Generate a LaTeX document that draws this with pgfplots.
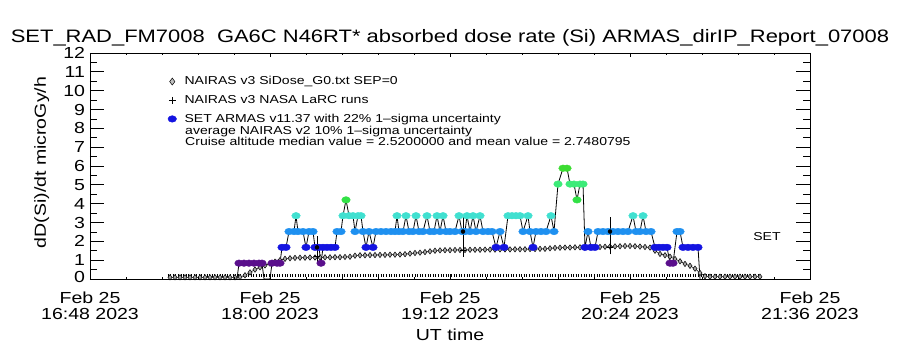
\documentclass[border=0pt]{standalone}
\usepackage{fontspec}
\setmainfont{Liberation Sans}[FakeStretch=1.22]
\usepackage{pgfplots}
\usepackage{pgfplotstable}
\pgfplotsset{compat=1.18}

\definecolor{cL1}{RGB}{90,15,140}
\definecolor{cL2}{RGB}{20,20,225}
\definecolor{cL3}{RGB}{30,144,240}
\definecolor{cL4}{RGB}{64,224,208}
\definecolor{cL5}{RGB}{50,225,70}
\definecolor{cL6}{RGB}{60,235,120}
\definecolor{cL7}{RGB}{60,220,50}

% NAIRAS v3 SiDose_G0 (minutes after 16:48 UT, microGy/h)
\pgfplotstableread{
t v
32 0.09
34 0.09
36 0.09
38 0.09
40 0.09
42 0.09
44 0.09
46 0.09
48 0.09
50 0.09
52 0.09
54 0.09
56 0.09
58 0.09
60 0.10
62 0.20
64 0.35
66 0.50
68 0.62
70 0.72
72 0.82
74 0.92
76 1.00
78 1.07
80 1.10
82 1.12
84 1.13
86 1.13
88 1.14
90 1.14
92 1.15
94 1.15
96 1.15
98 1.16
100 1.16
102 1.17
104 1.18
106 1.24
108 1.26
110 1.26
112 1.27
114 1.27
116 1.28
118 1.28
120 1.29
122 1.29
124 1.30
126 1.32
128 1.35
130 1.38
132 1.40
134 1.43
136 1.47
138 1.50
140 1.52
142 1.53
144 1.53
146 1.54
148 1.54
150 1.54
152 1.55
154 1.55
156 1.55
158 1.56
160 1.56
162 1.56
164 1.57
166 1.57
168 1.57
170 1.58
172 1.58
174 1.58
176 1.59
178 1.59
180 1.60
182 1.60
184 1.63
186 1.65
188 1.66
190 1.67
192 1.67
194 1.68
196 1.68
198 1.69
200 1.69
202 1.70
204 1.70
206 1.71
208 1.72
210 1.73
212 1.74
214 1.75
216 1.75
218 1.74
220 1.72
222 1.70
224 1.67
226 1.50
228 1.33
230 1.26
232 1.18
234 1.06
236 0.94
238 0.80
240 0.70
242 0.55
244 0.32
246 0.15
248 0.12
250 0.12
252 0.12
254 0.12
256 0.12
258 0.12
260 0.12
262 0.12
264 0.12
266 0.12
268 0.12
}\nairas

% SET ARMAS (class = dose level)
\pgfplotstableread{
t v c
58.8 0 a
59.6 0.84 b
61.6 0.84 b
63.6 0.84 b
65.6 0.84 b
67.6 0.84 b
68.8 0.84 b
69.6 0 a
72.0 0 a
72.8 0.84 b
74.8 0.84 b
76.0 0.84 b
76.8 1.68 c
78.4 1.68 c
79.6 2.52 d
81.6 2.52 d
82.4 3.36 e
83.2 2.52 d
85.2 2.52 d
86.4 1.68 c
87.6 2.52 d
89.2 2.52 d
90.0 1.68 c
91.6 1.68 c
92.4 0.84 b
93.2 1.68 c
94.8 1.68 c
96.4 1.68 c
98.0 1.68 c
98.8 2.52 d
100.4 2.52 d
101.2 3.36 e
102.4 4.20 f
103.6 3.36 e
105.2 3.36 e
106.0 2.52 d
107.2 3.36 e
108.4 3.36 e
109.2 2.52 d
110.4 1.68 c
111.6 2.52 d
113.2 1.68 c
114.4 2.52 d
116.4 2.52 d
118.4 2.52 d
120.4 2.52 d
122.0 2.52 d
122.8 3.36 e
123.6 2.52 d
125.2 2.52 d
126.4 3.36 e
127.6 2.52 d
129.2 2.52 d
130.4 3.36 e
131.6 2.52 d
133.2 2.52 d
134.8 3.36 e
136.0 2.52 d
137.6 2.52 d
138.8 3.36 e
140.0 2.52 d
141.2 3.36 e
142.4 2.52 d
144.0 2.52 d
146.0 2.52 d
147.6 3.36 e
148.8 2.52 d
150.0 2.52 d
150.8 3.36 e
152.0 2.52 d
153.2 3.36 e
154.4 2.52 d
156.0 3.36 e
157.2 2.52 d
159.2 2.52 d
160.8 2.52 d
162.4 1.68 c
164.0 2.52 d
165.6 1.68 c
167.2 3.36 e
168.8 3.36 e
170.4 3.36 e
172.0 3.36 e
173.2 2.52 d
175.2 3.36 e
176.0 2.52 d
177.2 1.68 c
178.4 2.52 d
180.4 2.52 d
182.4 2.52 d
184.4 3.36 e
185.6 2.52 d
187.2 5.04 g
189.2 5.88 h
190.8 5.88 h
192.0 5.04 g
193.6 5.04 g
194.8 4.20 f
196.0 5.04 g
197.2 5.04 g
198.0 1.68 c
199.2 2.52 d
200.4 1.68 c
202.0 1.68 c
203.2 2.52 d
205.2 2.52 d
207.2 2.52 d
209.2 2.52 d
211.2 2.52 d
213.2 2.52 d
215.2 2.52 d
217.2 3.36 e
218.4 2.52 d
220.0 2.52 d
221.2 3.36 e
222.4 2.52 d
224.4 2.52 d
226.0 1.68 c
227.6 1.68 c
229.2 1.68 c
230.8 1.68 c
232.0 0.84 b
233.2 0.84 b
234.8 2.52 d
236.0 2.52 d
237.2 1.68 c
239.2 1.68 c
241.2 1.68 c
243.2 1.68 c
244.0 0 a
}\armas

% NAIRAS v3 NASA LaRC runs with 10% uncertainty
\pgfplotstableread{
t v e
90.8 1.19 0.12
149.2 1.54 0.15
208.0 1.69 0.17
}\larc

% ARMAS value with 22% uncertainty at LaRC times
\pgfplotstableread{
t v e
90.8 1.68 0.37
149.2 2.52 0.55
208.0 2.52 0.55
}\armasunc

\begin{document}
\begin{tikzpicture}
\useasboundingbox (-90pt,-71pt) rectangle (810pt,279pt);
% axis with y ticks, data and legend
\begin{axis}[
  at={(0pt,0pt)}, anchor=south west,
  scale only axis, width=720pt, height=226pt,
  xmin=0, xmax=288, ymin=0, ymax=12,
  axis line style={line width=0.8pt},
  every tick/.style={black, line width=0.8pt},
  tick align=inside,
  xtick=\empty,
  ytick={0,1,2,3,4,5,6,7,8,9,10,11,12},
  yticklabels={\raisebox{5pt}{0},1,2,3,4,5,6,7,8,9,10,11,\raisebox{-3.5pt}{12}},
  minor y tick num=1,
  major tick length=14.4pt, minor tick length=7.2pt,
  yticklabel style={font=\fontsize{16}{17}\selectfont, xshift=-1.5pt},
  ylabel={dD(Si)/dt microGy/h},
  ylabel style={font=\fontsize{16}{17}\selectfont, at={(axis description cs:-0.067,0.515)}, anchor=center},
  title={SET\_RAD\_FM7008\ \ GA6C N46RT* absorbed dose rate (Si) ARMAS\_dirIP\_Report\_07008},
  title style={font=\fontsize{18}{19}\selectfont, at={(axis description cs:0.5,1)}, anchor=center, yshift=9pt},
  legend cell align=left,
  legend style={at={(axis description cs:0.108,0.905)}, anchor=north west, draw=none, fill=none,
    font=\fontsize{11.5}{12}\selectfont, inner sep=0pt, row sep=5pt, column sep=6pt},
  scatter/classes={
    a={opacity=0},
    b={mark=*, draw=cL1, fill=cL1, xscale=1.3},
    c={mark=*, draw=cL2, fill=cL2, xscale=1.3},
    d={mark=*, draw=cL3, fill=cL3, xscale=1.3},
    e={mark=*, draw=cL4, fill=cL4, xscale=1.3},
    f={mark=*, draw=cL5, fill=cL5, xscale=1.3},
    g={mark=*, draw=cL6, fill=cL6, xscale=1.3},
    h={mark=*, draw=cL7, fill=cL7, xscale=1.3}},
]
\addlegendimage{only marks, mark=diamond*, mark size=3.5pt, mark options={fill=gray!50, draw=black, line width=0.5pt}}
\addlegendentry{NAIRAS v3 SiDose\_G0.txt SEP=0}
\addlegendimage{only marks, mark=+, mark size=3.5pt, black, mark options={line width=0.8pt}}
\addlegendentry{NAIRAS v3 NASA LaRC runs}
\addlegendimage{only marks, mark=*, mark size=3.3pt, mark options={fill=cL2, draw=cL2, xscale=1.3}}
\addlegendentry{SET ARMAS v11.37 with 22\% 1–sigma uncertainty}

% bottom tick series
\addplot[black, line width=3pt, dash pattern=on 0.8pt off 1.8pt, forget plot]
  coordinates {(31,0.17) (268,0.17)};
% NAIRAS SiDose curve
\addplot[black, line width=0.5pt, mark=diamond*, mark size=2.7pt,
  mark options={fill=black!35, draw=black, line width=0.5pt}, forget plot] table[x=t, y=v] {\nairas};
% ARMAS connecting line
\addplot[black, line width=0.8pt, forget plot] table[x=t, y=v] {\armas};
% ARMAS coloured points
\addplot[scatter, only marks, mark size=3.3pt, scatter src=explicit symbolic, forget plot]
  table[x=t, y=v, meta=c] {\armas};
% ARMAS 22% uncertainty bars
\addplot[only marks, mark=none, forget plot,
  error bars/.cd, y dir=both, y explicit,
  error bar style={black, line width=0.8pt},
  error mark options={black, mark size=4pt, line width=0.8pt}]
  table[x=t, y=v, y error=e] {\armasunc};
% LaRC runs
\addplot[only marks, black, mark=+, mark size=3pt, mark options={line width=0.8pt}, forget plot,
  error bars/.cd, y dir=both, y explicit,
  error bar style={black, line width=0.6pt},
  error mark options={black, mark size=4pt, line width=0.6pt}]
  table[x=t, y=v, y error=e] {\larc};

\node[anchor=west, inner sep=0pt, font=\fontsize{11.5}{12}\selectfont] at (axis cs:38,7.85)
  {average NAIRAS v2 10\% 1–sigma uncertainty};
\node[anchor=west, inner sep=0pt, font=\fontsize{11.5}{12}\selectfont] at (axis cs:38,7.33)
  {Cruise altitude median value = 2.5200000 and mean value = 2.7480795};
\node[font=\fontsize{11.5}{12}\selectfont] at (axis cs:270.8,2.23) {SET};
\end{axis}

% axis with x ticks and labels
\begin{axis}[
  at={(0pt,0pt)}, anchor=south west,
  scale only axis, width=720pt, height=226pt,
  xmin=0, xmax=288, ymin=0, ymax=12,
  axis line style={line width=0.8pt},
  every tick/.style={black, line width=0.8pt},
  tick align=inside,
  ytick=\empty,
  xtick={0,72,144,216,288},
  minor x tick num=4,
  major tick length=4.5pt, minor tick length=2.3pt,
  xticklabels={{Feb 25\\16:48 2023},{Feb 25\\18:00 2023},{Feb 25\\19:12 2023},{Feb 25\\20:24 2023},{Feb 25\\21:36 2023}},
  xticklabel style={align=center, font=\fontsize{16}{16}\selectfont, yshift=-9pt},
  xlabel={UT time},
  xlabel style={font=\fontsize{16}{17}\selectfont, at={(axis description cs:0.5,-0.245)}, anchor=center},
]
\end{axis}
\end{tikzpicture}
\end{document}
